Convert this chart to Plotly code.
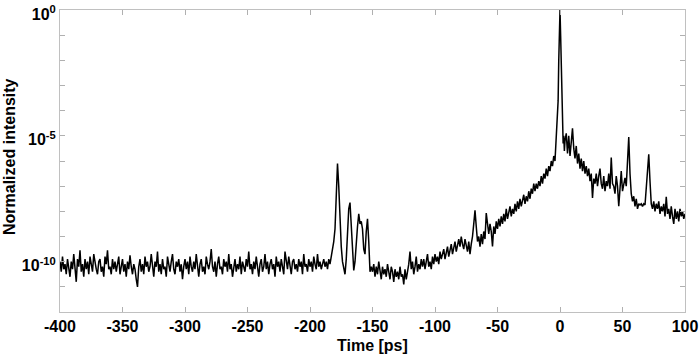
import numpy as np
import plotly.graph_objects as go

# ---- data: log10(normalized intensity) ----
# segment A: t = -400 ... -4 ps, 1 ps steps
t_a_start, t_a_stop = -400, -4
logI_a = [
    -10.0, -10.4, -9.8, -10.3, -10.1, -10.5, -9.9, -10.2, -10.6, -10.0,
    -10.3, -9.7, -10.4, -10.8, -9.9, -10.2, -9.55, -10.4, -10.1, -10.6,
    -9.9, -10.3, -10.0, -10.5, -9.8, -10.2, -10.4, -9.7, -10.1, -10.3,
    -10.5, -10.0, -9.9, -10.4, -10.2, -10.6, -9.8, -10.1, -9.55, -10.3,
    -10.2, -10.5, -9.9, -10.3, -10.0, -10.4, -10.1, -9.8, -10.5, -10.2,
    -9.9, -10.4, -10.1, -10.6, -10.0, -10.3, -9.75, -10.2, -10.5, -10.1,
    -10.3, -10.7, -11.0, -10.2, -9.9, -10.4, -10.1, -10.5, -9.8, -10.2,
    -10.0, -10.4, -10.2, -9.7, -10.3, -10.6, -10.0, -10.2, -9.6, -10.4,
    -10.1, -10.5, -9.9, -10.3, -10.2, -10.6, -9.8, -10.1, -10.4, -10.0,
    -9.7, -10.3, -10.5, -10.0, -10.2, -9.9, -10.4, -10.1, -10.7, -10.2,
    -9.9, -10.3, -10.0, -10.5, -9.8, -10.2, -10.4, -10.0, -10.3, -9.7,
    -10.2, -10.6, -10.1, -9.9, -10.4, -10.2, -10.5, -9.8, -10.1, -10.3,
    -10.0, -9.5, -10.2, -10.4, -10.0, -10.6, -10.1, -9.8, -10.3, -10.2,
    -10.5, -9.9, -10.2, -10.0, -10.4, -9.7, -10.3, -10.1, -10.6, -10.2,
    -9.9, -10.4, -10.1, -10.3, -9.8, -10.5, -10.0, -10.2, -10.4, -9.9,
    -10.2, -9.6, -10.3, -10.1, -10.5, -10.0, -10.3, -9.8, -10.2, -10.6,
    -10.1, -9.9, -10.4, -10.2, -9.7, -10.3, -10.0, -10.5, -10.1, -9.9,
    -10.3, -10.1, -10.6, -9.8, -10.2, -10.0, -10.4, -9.9, -10.2, -10.5,
    -9.6, -10.1, -10.3, -9.8, -10.2, -10.5, -10.0, -9.9, -10.3, -10.1,
    -10.4, -9.9, -10.2, -10.0, -10.5, -9.7, -10.2, -10.1, -10.4, -9.9,
    -10.2, -10.0, -10.4, -9.8, -10.1, -10.3, -9.7, -10.2, -10.0, -10.3,
    -10.1, -9.9, -10.2, -10.0, -10.3, -9.9, -10.1, -9.8, -9.6, -9.2,
    # -180 ... -151 : satellite pulses
    -8.7, -7.5, -6.1, -7.0, -8.4, -9.4, -10.0, -10.3, -10.5, -9.9,
    -9.0, -7.9, -7.65, -8.6, -9.8, -10.35, -10.0, -9.2, -8.6, -8.1,
    -8.5, -8.4, -8.7, -9.5, -9.7, -8.8, -8.3, -9.2, -10.4, -10.2,
    # -150 ... -4
    -10.4, -10.1, -10.6, -10.2, -10.5, -10.0, -10.4, -10.7, -10.2, -10.5,
    -10.3, -10.6, -10.1, -10.5, -10.7, -10.2, -10.4, -10.8, -10.3, -10.6,
    -10.4, -10.7, -10.2, -10.6, -10.5, -10.9, -10.3, -10.7, -10.4, -10.1,
    -9.6, -10.3, -10.0, -10.5, -10.2, -9.8, -10.4, -10.1, -10.3, -9.9,
    -10.2, -9.9, -10.3, -10.0, -9.7, -10.2, -10.0, -10.3, -9.8, -10.1,
    -9.7, -10.0, -9.8, -10.1, -9.6, -9.9, -9.7, -9.5, -9.9, -9.6,
    -9.4, -9.8, -9.5, -9.3, -9.7, -9.4, -9.2, -9.6, -9.3, -9.1,
    -9.4, -9.0, -9.3, -9.5, -9.1, -9.4, -9.6, -9.2, -9.7, -9.3,
    -9.0, -8.5, -7.96, -8.6, -9.2, -9.0, -9.4, -8.9, -9.3, -8.8,
    -9.1, -8.07, -8.6, -8.9, -8.5, -8.8, -9.39, -8.6, -8.9, -8.4,
    -8.7, -8.3, -8.6, -8.2, -8.5, -8.1, -8.4, -7.9, -8.3, -8.0,
    -7.8, -8.2, -7.9, -8.1, -7.7, -8.0, -7.6, -7.9, -7.5, -7.8,
    -7.6, -7.34, -7.7, -7.4, -7.6, -7.2, -7.5, -7.1, -7.3, -6.9,
    -7.2, -6.9, -7.1, -6.8, -7.0, -6.6, -6.9, -6.5, -6.7, -6.3,
    -6.6, -6.2, -6.4, -6.0, -6.2, -5.8, -6.0,
]

# segment B: main pulse, t = -3.5 ... 3.5 ps, 0.5 ps steps
t_b_start, t_b_stop = -3.5, 3.5
logI_b = [-5.6, -4.8, -4.4, -4.2, -3.6, -2.0, -0.8, 0.0,
          -1.0, -2.2, -3.6, -4.3, -5.3, -5.0, -5.6]

# segment C: t = 4 ... 100 ps, 1 ps steps
t_c_start, t_c_stop = 4, 100
logI_c = [
    -5.2, -4.9, -5.7, -5.0, -5.8, -5.3, -4.7, -5.5, -5.9, -5.4,
    -6.1, -5.7, -6.3, -5.9, -6.4, -6.0, -6.5, -6.2, -6.6, -6.3,
    -6.8, -6.5, -7.47, -6.7, -6.9, -6.5, -7.0, -6.6, -6.3, -6.9,
    -7.1, -6.6, -7.2, -6.8, -7.0, -6.5, -7.1, -5.86, -6.9, -7.0,
    -7.3, -6.6, -7.0, -7.8, -6.8, -6.4, -7.2, -6.9, -6.67, -7.0,
    -6.0, -5.05, -6.5, -7.3, -7.6, -7.4, -7.8, -7.5, -7.9, -7.7,
    -7.75, -7.7, -7.8, -7.7, -7.75, -7.0, -6.1, -5.73, -6.8, -7.7,
    -7.9, -7.6, -8.0, -7.7, -7.9, -7.6, -8.1, -7.8, -8.0, -7.7,
    -8.2, -7.42, -8.1, -7.9, -8.3, -7.8, -8.2, -8.5, -7.9, -8.3,
    -8.0, -8.4, -7.9, -8.2, -8.0, -8.3, -8.1,
]

# axis ticks and titles
x_ticks = [-400, -350, -300, -250, -200, -150, -100, -50, 0, 50, 100]
y_log_range = [-12, 0.002]                  # decades shown (top = 10^0)
y_label_decades = [0, -5, -10]              # labelled decades
y_minor_decades = list(range(-12, 1))       # tick at every decade
x_title = "Time [ps]"
y_title = "Normalized intensity"

# ---- assemble ----
t = np.concatenate([
    np.arange(t_a_start, t_a_stop + 1, 1.0),
    np.arange(t_b_start, t_b_stop + 0.25, 0.5),
    np.arange(t_c_start, t_c_stop + 1, 1.0),
])
y = 10.0 ** np.array(logI_a + logI_b + logI_c)

fig = go.Figure()
fig.add_trace(go.Scatter(x=t, y=y, mode="lines",
                         line=dict(color="black", width=1.5),
                         showlegend=False, hoverinfo="skip"))

font_main = "Liberation Sans, Arial, sans-serif"
tick_grey = "#b0b0b0"
fig.update_layout(
    width=700, height=356,
    margin=dict(l=60, r=15, t=10, b=44),
    paper_bgcolor="white", plot_bgcolor="white",
    font=dict(family=font_main, size=16, color="black"),
)
fig.update_xaxes(
    range=[x_ticks[0], x_ticks[-1]],
    tickmode="array", tickvals=x_ticks,
    ticktext=[f"<b>{v}</b>" for v in x_ticks],
    ticks="inside", ticklen=5, tickcolor=tick_grey,
    showline=True, linecolor="#c0c0c0", linewidth=1, mirror="ticks",
    showgrid=False, zeroline=False, automargin=False,
    ticklabeloverflow="allow",
    tickfont=dict(size=16, family=font_main),
)
fig.update_yaxes(
    type="log", range=y_log_range,
    tickmode="array",
    tickvals=[10.0 ** d for d in y_label_decades],
    ticktext=[f"<b>10<sup>{d}</sup></b>" for d in y_label_decades],
    ticks="inside", ticklen=5, tickcolor=tick_grey,
    minor=dict(tickmode="array", tickvals=[10.0 ** d for d in y_minor_decades],
               ticks="inside", ticklen=5, tickcolor=tick_grey, showgrid=False),
    showline=True, linecolor="#c0c0c0", linewidth=1, mirror="ticks",
    showgrid=False, zeroline=False, automargin=False,
    ticklabeloverflow="allow", ticklabelshift=4,
    tickfont=dict(size=16, family=font_main),
)
# axis titles
fig.add_annotation(text=f"<b>{x_title}</b>", xref="paper", yref="paper",
                   x=0.5, y=0, xanchor="center", yanchor="middle",
                   yshift=-33, showarrow=False, font=dict(size=16))
fig.add_annotation(text=f"<b>{y_title}</b>", xref="paper", yref="paper",
                   x=0, y=0.5, xanchor="center", yanchor="middle",
                   xshift=-51, yshift=4, textangle=-90, showarrow=False,
                   font=dict(size=16))

# the default page has an 8 px body margin; remove it so the figure fills the window
fig.write_html("out.html",
               config={"displayModeBar": False},
               post_script="document.body.style.margin='0';"
                           "document.body.style.overflow='hidden';")
